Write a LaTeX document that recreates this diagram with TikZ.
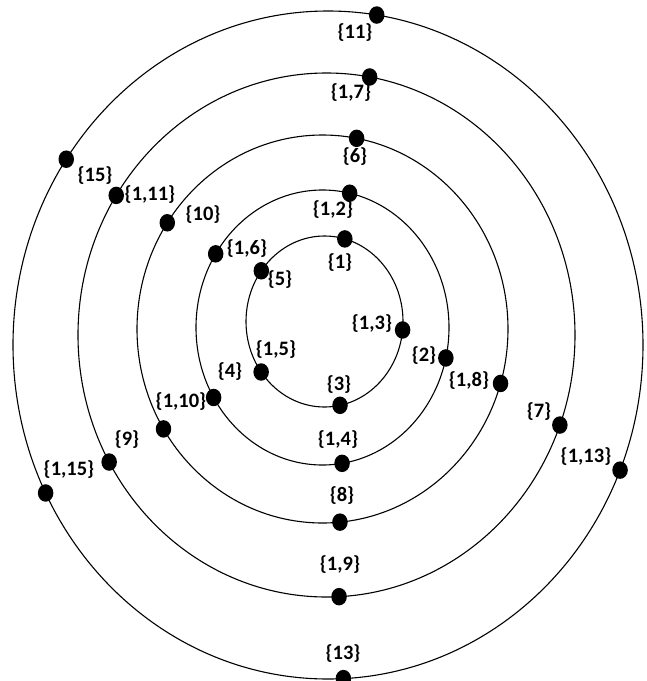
\documentclass[tikz,border=0pt]{standalone}
\usepackage{fontspec}
\setmainfont{Carlito}
\usetikzlibrary{shapes.geometric}
\begin{document}
\begin{tikzpicture}[x=1pt,y=-1pt,
  ring/.style={line width=1.1pt},
  dot/.style={ellipse,fill=black,inner sep=0pt,minimum width=15.5pt,minimum height=17.5pt},
  lab/.style={inner sep=0pt,font=\fontsize{20.5}{20.5}\selectfont\bfseries}]
\useasboundingbox (0,0) rectangle (647,681);
% centres
\coordinate (c1) at (324.5,321.5);
\coordinate (c2) at (322.5,327.5);
\coordinate (c3) at (322.5,329);
\coordinate (c4) at (326.5,335);
\coordinate (c5) at (328,345);
% rings
\draw[ring] (c1) ellipse [x radius=78.5, y radius=85.5];
\draw[ring] (c2) ellipse [x radius=126.5, y radius=137.5];
\draw[ring] (c3) ellipse [x radius=185.5, y radius=194];
\draw[ring] (c4) ellipse [x radius=248.5, y radius=262];
\draw[ring] (c5) ellipse [x radius=315, y radius=334];
% ring 1 dots
\path (c1) ++(-75:78.5 and 85.5) node[dot] (d1) {};
\path (c1) ++(78.6:78.5 and 85.5) node[dot] (d3) {};
\path (c1) ++(5.7:78.5 and 85.5) node[dot] (d13) {};
\path (c1) ++(143.8:78.5 and 85.5) node[dot] (d15) {};
\path (c1) ++(-143.6:78.5 and 85.5) node[dot] (d5) {};
% ring 2 dots
\path (c2) ++(-77.6:126.5 and 137.5) node[dot] (d12) {};
\path (c2) ++(-147.6:126.5 and 137.5) node[dot] (d16) {};
\path (c2) ++(149.4:126.5 and 137.5) node[dot] (d4) {};
\path (c2) ++(12.8:126.5 and 137.5) node[dot] (d2) {};
\path (c2) ++(81.1:126.5 and 137.5) node[dot] (d14) {};
% ring 3 dots
\path (c3) ++(-79.4:185.5 and 194) node[dot] (d6) {};
\path (c3) ++(-146.8:185.5 and 194) node[dot] (d10) {};
\path (c3) ++(149:185.5 and 194) node[dot] (d110) {};
\path (c3) ++(16.3:185.5 and 194) node[dot] (d18) {};
\path (c3) ++(84.6:185.5 and 194) node[dot] (d8) {};
% ring 4 dots
\path (c4) ++(-80:248.5 and 262) node[dot] (d17) {};
\path (c4) ++(-147.8:248.5 and 262) node[dot] (d111) {};
\path (c4) ++(151:248.5 and 262) node[dot] (d9) {};
\path (c4) ++(20.1:248.5 and 262) node[dot] (d7) {};
\path (c4) ++(87.1:248.5 and 262) node[dot] (d19) {};
% ring 5 dots
\path (c5) ++(-81.1:315 and 334) node[dot] (d11) {};
\path (c5) ++(-146.2:315 and 334) node[dot] (d15b) {};
\path (c5) ++(153.7:315 and 334) node[dot] (d115) {};
\path (c5) ++(22:315 and 334) node[dot] (d113) {};
\path (c5) ++(87.2:315 and 334) node[dot] (d13b) {};
% labels
\node[lab] (l11) at (355,33) {\{11\}};
\node[lab] (l17) at (351,93) {\{1,7\}};
\node[lab] (l6) at (355,157) {\{6\}};
\node[lab] (l12) at (333,210) {\{1,2\}};
\node[lab] (l1) at (340,263) {\{1\}};
\node[lab] (l5) at (280,280) {\{5\}};
\node[lab] (l16) at (247,249) {\{1,6\}};
\node[lab] (l13) at (372,324) {\{1,3\}};
\node[lab] (l15) at (276,350) {\{1,5\}};
\node[lab] (l3) at (339,385) {\{3\}};
\node[lab] (l4) at (230,372) {\{4\}};
\node[lab] (l2) at (424,356) {\{2\}};
\node[lab] (l18) at (469,381) {\{1,8\}};
\node[lab] (l10) at (203,215) {\{10\}};
\node[lab] (l111) at (150,195) {\{1,11\}};
\node[lab] (l15b) at (95,176) {\{15\}};
\node[lab] (l110) at (181,402) {\{1,10\}};
\node[lab] (l9) at (127,440) {\{9\}};
\node[lab] (l115) at (69,470) {\{1,15\}};
\node[lab] (l14) at (338,440) {\{1,4\}};
\node[lab] (l8) at (342,496) {\{8\}};
\node[lab] (l19) at (340,565) {\{1,9\}};
\node[lab] (l13b) at (343,654) {\{13\}};
\node[lab] (l7) at (539,412) {\{7\}};
\node[lab] (l113) at (586,457) {\{1,13\}};
\end{tikzpicture}
\end{document}
